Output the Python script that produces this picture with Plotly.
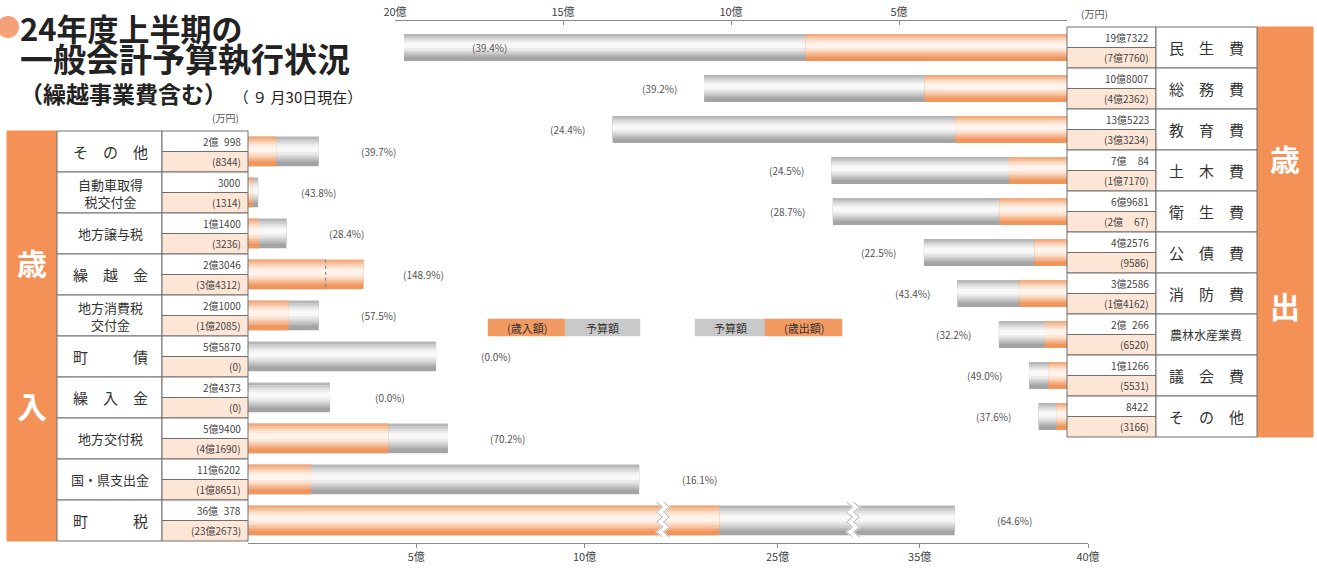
import plotly.graph_objects as go

W, H = 1317, 568
FONT = "Noto Sans CJK JP"

# ---------------- data (万円) ----------------
exp_cats = ["民　生　費", "総　務　費", "教　育　費", "土　木　費", "衛　生　費",
            "公　債　費", "消　防　費", "農林水産業費", "議　会　費", "そ　の　他"]
exp_budget = [197322, 108007, 135223, 70084, 69681, 42576, 32586, 20266, 11266, 8422]
exp_spent = [77760, 42362, 33234, 17170, 20067, 9586, 14162, 6520, 5531, 3166]
exp_pct = ["39.4", "39.2", "24.4", "24.5", "28.7", "22.5", "43.4", "32.2", "49.0", "37.6"]

rev_cats = ["そ　の　他", "自動車取得<br>税交付金", "地方譲与税", "繰　越　金", "地方消費税<br>交付金",
            "町　　　債", "繰　入　金", "地方交付税", "国・県支出金", "町　　　税"]
rev_budget = [20998, 3000, 11400, 23046, 21000, 55870, 24373, 59400, 116202, 360378]
rev_received = [8344, 1314, 3236, 34312, 12085, 0, 0, 41690, 18651, 232673]
rev_pct = ["39.7", "43.8", "28.4", "148.9", "57.5", "0.0", "0.0", "70.2", "16.1", "64.6"]

top_tickvals = [20, 15, 10, 5]
top_ticktext = ["20億", "15億", "10億", "5億"]
bot_tickvals = [[5, 10], [25], [35, 40]]
bot_ticktext = [["5億", "10億"], ["25億"], ["35億", "40億"]]

# ---------------- helpers ----------------
def px(x):
    return x / W


def py(y):
    return 1 - y / H


def mix(c1, c2, t):
    a = [int(c1[i:i + 2], 16) for i in (1, 3, 5)]
    b = [int(c2[i:i + 2], 16) for i in (1, 3, 5)]
    return "#" + "".join(f"{round(a[k] + (b[k] - a[k]) * t):02x}" for k in range(3))


def oku_text(v, paren=False):
    if v >= 10000:
        o, r = divmod(v, 10000)
        s = f"{o}億" + str(r).rjust(4, "\u2007")
    else:
        s = str(v)
    return f"({s})" if paren else s


GRAY = ("#a4a4a4", "#f8f8f8")
ORANGE = ("#f0955c", "#fff4ec")
LAYERS = [(1.0, 0.0), (0.84, 0.22), (0.68, 0.45), (0.52, 0.68), (0.36, 0.86), (0.2, 1.0)]

fig = go.Figure()


def add_tube(values, xa, ya, width, colors):
    pos = list(range(len(values)))
    vals = [v / 10000 for v in values]
    for frac, t in LAYERS:
        w = width * frac
        shift = 0 if frac == 1.0 else -0.08 * width
        fig.add_trace(go.Bar(
            x=vals, y=pos, orientation="h", width=w, offset=shift - w / 2,
            marker=dict(color=mix(colors[0], colors[1], t), line=dict(width=0)),
            xaxis=xa, yaxis=ya, showlegend=False, hoverinfo="skip"))


TOP_BW = 0.66
BOT_BW = 0.72
add_tube(exp_budget, "x", "y", TOP_BW, GRAY)
add_tube(exp_spent, "x", "y", TOP_BW, ORANGE)
for xa in ("x2", "x3", "x4"):
    add_tube(rev_budget, xa, "y2", BOT_BW, GRAY)
    add_tube(rev_received, xa, "y2", BOT_BW, ORANGE)

shapes = []
ann = []

# ---------------- geometry ----------------
TY0, TRH = 27, 41      # expenditure table
BY0, BRH = 131, 41     # revenue table
LINE = "#6f6f6f"
PEACH = "#fde6d6"
BAND = "#f39157"


def rect(x0, y0, x1, y1, fill, line=LINE, lw=1):
    shapes.append(dict(type="rect", xref="paper", yref="paper",
                       x0=px(x0), x1=px(x1), y0=py(y1), y1=py(y0),
                       fillcolor=fill, line=dict(color=line, width=lw), layer="above"))


def text(x, y, s, size=11, color="#333", xanchor="center", bold=False, family=FONT, align="center"):
    ann.append(dict(xref="paper", yref="paper", x=px(x), y=py(y), text=f"<b>{s}</b>" if bold else s,
                    showarrow=False, xanchor=xanchor, yanchor="middle", align=align,
                    font=dict(size=size, color=color, family=family)))


# ---- expenditure table (right) ----
rect(1257, TY0, 1313, TY0 + TRH * len(exp_cats), BAND, line=BAND)
text(1285, 158, "歳", 30, "white", bold=True)
text(1285, 305, "出", 30, "white", bold=True)
for i, cat in enumerate(exp_cats):
    y0 = TY0 + TRH * i
    rect(1067, y0, 1156, y0 + TRH / 2, "white")
    rect(1067, y0 + TRH / 2, 1156, y0 + TRH, PEACH)
    rect(1156, y0, 1257, y0 + TRH, "white")
    text(1151, y0 + TRH * 0.25, oku_text(exp_budget[i]), 10, "#444", "right")
    text(1151, y0 + TRH * 0.75, oku_text(exp_spent[i], True), 10, "#444", "right")
    text(1206, y0 + TRH / 2, cat, 12 if len(cat) > 5 else 15, "#333")
text(1094, 14, "(万円)", 10, "#555")

# ---- revenue table (left) ----
rect(7, BY0, 57, BY0 + BRH * len(rev_cats), BAND, line=BAND)
text(32, 262, "歳", 30, "white", bold=True)
text(32, 405, "入", 30, "white", bold=True)
for i, cat in enumerate(rev_cats):
    y0 = BY0 + BRH * i
    rect(57, y0, 162, y0 + BRH, "white")
    rect(162, y0, 248, y0 + BRH / 2, "white")
    rect(162, y0 + BRH / 2, 248, y0 + BRH, PEACH)
    text(243, y0 + BRH * 0.25, oku_text(rev_budget[i]), 10, "#444", "right")
    text(243, y0 + BRH * 0.75, oku_text(rev_received[i], True), 10, "#444", "right")
    small = ("<br>" in cat) or ("　" not in cat)
    text(110, y0 + BRH / 2, cat, 13 if small else 15, "#333")
text(225, 117, "(万円)", 10, "#555")

# ---- percentage labels ----
for i, p in enumerate(exp_pct):
    v = exp_budget[i] / 10000
    inside = v > 18
    ann.append(dict(xref="x", yref="y", x=v, y=i, xshift=85 if inside else -45,
                    text=f"({p}%)", showarrow=False, xanchor="center",
                    font=dict(size=10, color="#555", family=FONT)))

seg_ranges = {"x2": (0, 12.33), "x3": (21.6, 27.24), "x4": (33.02, 40)}
for i, p in enumerate(rev_pct):
    v = max(rev_budget[i], rev_received[i]) / 10000
    xa = next(k for k, (a, b) in seg_ranges.items() if v <= b)
    ann.append(dict(xref=xa, yref="y2", x=v, y=i, xshift=60,
                    text=f"({p}%)", showarrow=False, xanchor="center",
                    font=dict(size=10, color="#555", family=FONT)))
    if rev_received[i] > rev_budget[i]:
        shapes.append(dict(type="line", xref=xa, yref="y2",
                           x0=rev_budget[i] / 10000, x1=rev_budget[i] / 10000,
                           y0=i - BOT_BW / 2, y1=i + BOT_BW / 2,
                           line=dict(color="#8a8a8a", width=1.2, dash="dot")))

# ---- axis break zigzags on the largest revenue bar ----
big = rev_budget.index(max(rev_budget))
zy0 = BY0 + BRH * big + 2
zy1 = BY0 + BRH * (big + 1) - 1
for xb in (663, 853):
    for dx, col, lw in ((0, "white", 6), (-3.5, "#9a9a9a", 0.8), (3.5, "#9a9a9a", 0.8)):
        pts = []
        y = zy0
        k = 0
        while y <= zy1:
            pts.append((xb + dx + (3 if k % 2 else -3), y))
            y += 5
            k += 1
        path = "M " + " L ".join(f"{px(a):.5f},{py(b):.5f}" for a, b in pts)
        shapes.append(dict(type="path", xref="paper", yref="paper", path=path,
                           line=dict(color=col, width=lw)))

# ---- legend boxes ----
def box(x0, x1, fill, s):
    rect(x0, 319, x1, 336, fill, line=fill, lw=0.5)
    text((x0 + x1) / 2, 327.5, s, 11, "#333")


box(488, 565, "#f39a63", "(歳入額)")
box(565, 640, "#c9c9c9", "予算額")
box(695, 765, "#c9c9c9", "予算額")
box(765, 842, "#f39a63", "(歳出額)")

# ---- title (one block, line spacing from base size) ----
shapes.append(dict(type="circle", xref="paper", yref="paper",
                   x0=px(-3), x1=px(19), y0=py(38), y1=py(16),
                   fillcolor="#f4a079", line=dict(width=0)))
title_txt = ("<b><span style='font-size:31px'>24年度上半期の</span></b><br>"
             "<b><span style='font-size:33px'>一般会計予算執行状況</span></b><br>"
             "<b><span style='font-size:23px'>（繰越事業費含む）</span></b>"
             "<span style='font-size:15px'>　 （ ９ 月30日現在）</span>")
ann.append(dict(xref="paper", yref="paper", x=px(18), y=py(58), text=title_txt,
                showarrow=False, xanchor="left", yanchor="middle", align="left",
                font=dict(size=24, color="#222", family=FONT)))

axis_font = dict(size=11, color="#444", family=FONT)
common = dict(showgrid=False, zeroline=False, showline=True, linecolor="#8a8a8a",
              linewidth=1, tickcolor="#8a8a8a", ticklen=4, tickfont=axis_font,
              fixedrange=True, automargin=False)

fig.update_layout(
    width=W, height=H, margin=dict(l=0, r=0, t=0, b=0, autoexpand=False),
    paper_bgcolor="white", plot_bgcolor="rgba(0,0,0,0)", barmode="overlay",
    font=dict(family=FONT),
    xaxis=dict(domain=[px(395), px(1067)], range=[20, 0], side="top", anchor="free",
               position=py(20), tickvals=top_tickvals, ticktext=top_ticktext,
               ticks="inside", **common),
    yaxis=dict(domain=[py(TY0 + TRH * len(exp_cats)), py(TY0)], range=[len(exp_cats) - 0.5, -0.5],
               visible=False, anchor="x", automargin=False),
    xaxis2=dict(domain=[px(248), px(663)], range=list(seg_ranges["x2"]), anchor="free",
                position=py(543), tickvals=bot_tickvals[0], ticktext=bot_ticktext[0],
                ticks="outside", **common),
    xaxis3=dict(domain=[px(663), px(853)], range=list(seg_ranges["x3"]), anchor="free",
                position=py(543), tickvals=bot_tickvals[1], ticktext=bot_ticktext[1],
                ticks="outside", **common),
    xaxis4=dict(domain=[px(853), px(1088)], range=list(seg_ranges["x4"]), anchor="free",
                position=py(543), tickvals=bot_tickvals[2], ticktext=bot_ticktext[2],
                ticks="outside", **common),
    yaxis2=dict(domain=[py(BY0 + BRH * len(rev_cats)), py(BY0)], range=[len(rev_cats) - 0.5, -0.5],
                visible=False, anchor="x2", automargin=False),
    shapes=shapes, annotations=ann,
)

fig.write_html("out.html", config={"displayModeBar": False, "staticPlot": True},
               post_script="document.body.style.margin='0px';")
